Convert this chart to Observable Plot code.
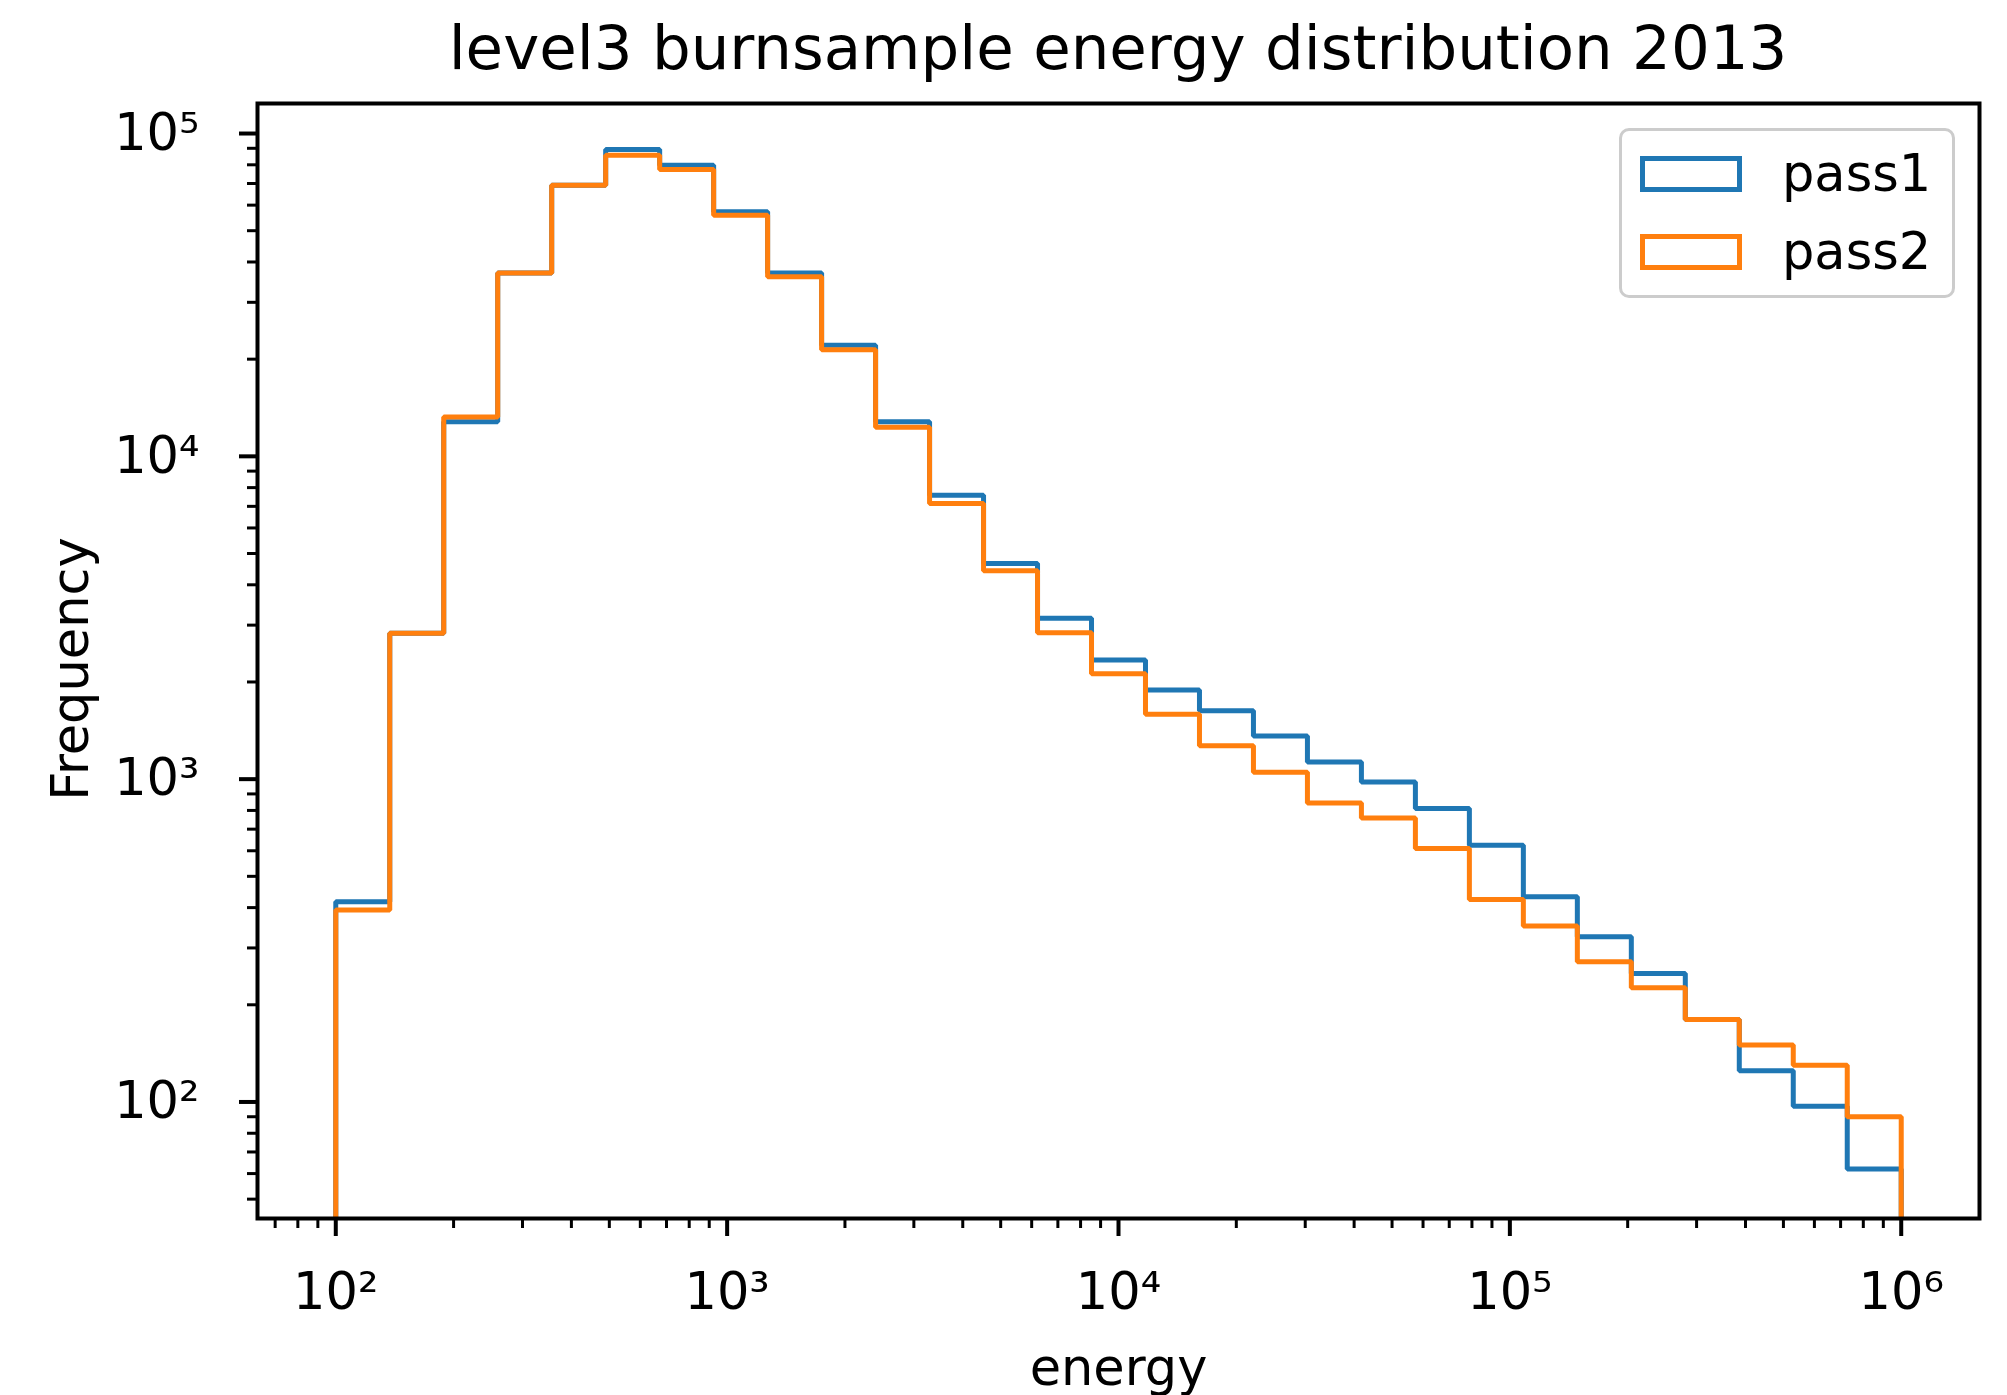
<!DOCTYPE html>
<html>
<head>
<meta charset="utf-8">
<script src="https://cdn.jsdelivr.net/npm/d3@7"></script>
<script src="https://cdn.jsdelivr.net/npm/@observablehq/plot@0.6"></script>
<style>
html, body { margin: 0; padding: 0; background: #fff; }
#wrap { position: relative; width: 2007px; height: 1395px; font-family: "DejaVu Sans", sans-serif; color: #000; overflow: hidden; }
#title { position: absolute; left: 257px; width: 1722px; top: 10px; text-align: center; font-size: 61px; line-height: 76px; white-space: nowrap; }
#chart { position: absolute; left: 0; top: 100px; }
#legend { position: absolute; left: 1619px; top: 128px; width: 336px; height: 170px; box-sizing: border-box; border: 3px solid #cccccc; border-radius: 10px; background: rgba(255,255,255,0.8); }
.item { position: absolute; left: 18px; height: 60px; display: flex; align-items: center; }
.swatch { width: 102px; height: 36px; box-sizing: border-box; border: 5px solid; }
.lab { margin-left: 40px; font-size: 51px; line-height: 60px; }
</style>
</head>
<body>
<div id="wrap">
  <div id="title"></div>
  <div id="chart"></div>
  <div id="legend"></div>
</div>
<script>
// ---- data ----
const titleText = "level3 burnsample energy distribution 2013";
const xLabel = "energy";
const yLabel = "Frequency";
const seriesNames = ["pass1", "pass2"];
const seriesColors = ["#1f77b4", "#ff7f0e"];

// histogram bin edges (30 log-spaced edges, 29 bins from 1e2 to 1e6)
const binEdges = [100, 137.38, 188.73, 259.29, 356.22, 489.39, 672.34, 923.67, 1268.96, 1743.33,
  2395.03, 3290.35, 4520.35, 6210.17, 8531.68, 11721.0, 16102.6, 22122.1, 30392.0, 41753.4,
  57361.5, 78804.6, 108263, 148735, 204336, 280722, 385662, 529832, 727895, 1000000];

// counts per bin
const pass1 = [417, 2830, 12800, 37000, 69200, 89200, 79800, 57200, 37000, 22100,
  12800, 7580, 4660, 3150, 2340, 1890, 1630, 1360, 1130, 980,
  811, 624, 432, 325, 250, 180, 125, 97, 62];
const pass2 = [393, 2830, 13250, 37000, 69200, 85700, 77400, 55800, 36000, 21400,
  12300, 7140, 4420, 2840, 2120, 1590, 1270, 1050, 844, 758,
  610, 424, 351, 272, 226, 180, 150, 130, 90];

// axes
const xMajorTicks = [1e2, 1e3, 1e4, 1e5, 1e6];
const xMajorLabels = ["10²", "10³", "10⁴", "10⁵", "10⁶"];
const yMajorTicks = [1e2, 1e3, 1e4, 1e5];
const yMajorLabels = ["10²", "10³", "10⁴", "10⁵"];
const xDomain = [10 ** 1.8, 10 ** 6.2];
const yDomain = [10 ** 1.639, 10 ** 5.093];

// ---- build ----
function minorTicks(domain) {
  const out = [];
  for (let e = 0; e <= 7; e++) {
    for (let m = 2; m <= 9; m++) {
      const v = m * 10 ** e;
      if (v >= domain[0] && v <= domain[1]) out.push(v);
    }
  }
  return out;
}
const xMinor = minorTicks(xDomain);
const yMinor = minorTicks(yDomain);

function stepOutline(values, name) {
  const base = yDomain[0];
  const pts = [{x: binEdges[0], y: base, s: name}];
  values.forEach((v, i) => pts.push({x: binEdges[i], y: v, s: name}));
  pts.push({x: binEdges[binEdges.length - 1], y: values[values.length - 1], s: name});
  pts.push({x: binEdges[binEdges.length - 1], y: base, s: name});
  return pts;
}
const outlines = [stepOutline(pass1, seriesNames[0]), stepOutline(pass2, seriesNames[1])];

const fmt = (ticks, labels) => d => labels[ticks.indexOf(d)];

const chart = Plot.plot({
  width: 2007,
  height: 1295,
  marginTop: 3,
  marginBottom: 177,
  marginLeft: 257,
  marginRight: 28,
  style: {fontFamily: "DejaVu Sans, sans-serif", fontSize: "51px", color: "#000", background: "#fff", overflow: "visible"},
  x: {type: "log", domain: xDomain},
  y: {type: "log", domain: yDomain},
  marks: [
    Plot.line(outlines[0], {x: "x", y: "y", curve: "step-after", stroke: seriesColors[0], strokeWidth: 5, strokeLinejoin: "miter", strokeLinecap: "butt"}),
    Plot.line(outlines[1], {x: "x", y: "y", curve: "step-after", stroke: seriesColors[1], strokeWidth: 5, strokeLinejoin: "miter", strokeLinecap: "butt"}),
    Plot.axisX(xMinor, {tickSize: 10, strokeWidth: 3, tickFormat: () => "", label: null}),
    Plot.axisX(xMajorTicks, {tickSize: 18, strokeWidth: 4, tickPadding: 36, tickFormat: fmt(xMajorTicks, xMajorLabels), label: null, fontSize: 51}),
    Plot.axisY(yMinor, {tickSize: 10, strokeWidth: 3, tickFormat: () => "", label: null}),
    Plot.axisY(yMajorTicks, {tickSize: 18, strokeWidth: 4, tickPadding: 40, tickFormat: fmt(yMajorTicks, yMajorLabels), label: null, fontSize: 51}),
    Plot.text([xLabel], {frameAnchor: "bottom", dy: 166, text: d => d, fontSize: 51, fill: "#000"}),
    Plot.text([yLabel], {frameAnchor: "left", textAnchor: "middle", dx: -186, dy: 8, rotate: -90, text: d => d, fontSize: 51, fill: "#000"}),
    Plot.frame({stroke: "#000", strokeWidth: 4})
  ]
});
document.getElementById("chart").appendChild(chart);
document.getElementById("title").textContent = titleText;

const legend = document.getElementById("legend");
seriesNames.forEach((name, i) => {
  const item = document.createElement("div");
  item.className = "item";
  item.style.top = (13 + i * 78) + "px";
  const sw = document.createElement("div");
  sw.className = "swatch";
  sw.style.borderColor = seriesColors[i];
  const lab = document.createElement("span");
  lab.className = "lab";
  lab.textContent = name;
  item.appendChild(sw);
  item.appendChild(lab);
  legend.appendChild(item);
});
</script>
</body>
</html>
